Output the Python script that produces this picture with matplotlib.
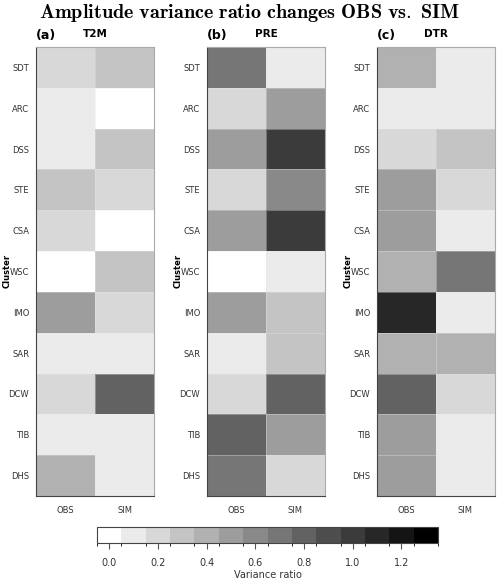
import numpy as np
import matplotlib
matplotlib.use("Agg")
import matplotlib.pyplot as plt
from matplotlib.colors import ListedColormap, BoundaryNorm

# clusters top to bottom
clusters = ["SDT", "ARC", "DSS", "STE", "CSA", "WSC", "IMO", "SAR", "DCW", "TIB", "DHS"]
sources = ["OBS", "SIM"]
variables = ["T2M", "PRE", "DTR"]
panel_tags = ["(a)", "(b)", "(c)"]

# variance ratio per cluster, [OBS, SIM]
t2m_obs = [0.2, 0.1, 0.1, 0.3, 0.2, 0.0, 0.5, 0.1, 0.2, 0.1, 0.4]
t2m_sim = [0.3, 0.0, 0.3, 0.2, 0.0, 0.3, 0.2, 0.1, 0.8, 0.1, 0.1]
pre_obs = [0.7, 0.2, 0.5, 0.2, 0.5, 0.0, 0.5, 0.1, 0.2, 0.8, 0.7]
pre_sim = [0.1, 0.5, 1.0, 0.6, 1.0, 0.1, 0.3, 0.3, 0.8, 0.5, 0.2]
dtr_obs = [0.4, 0.1, 0.2, 0.5, 0.5, 0.4, 1.1, 0.4, 0.8, 0.5, 0.5]
dtr_sim = [0.1, 0.1, 0.3, 0.2, 0.1, 0.7, 0.1, 0.4, 0.2, 0.1, 0.1]

panels = [(t2m_obs, t2m_sim), (pre_obs, pre_sim), (dtr_obs, dtr_sim)]

# 14 grey levels, bins centred on 0.0 ... 1.3
levels = np.linspace(1, 0, 14)
cmap = ListedColormap([str(g) for g in levels])
bounds = np.arange(-0.05, 1.40, 0.1)
norm = BoundaryNorm(bounds, cmap.N)

fig = plt.figure(figsize=(5, 5.85), dpi=100)
W, H = 500, 585

fig.text(0.5, 1 - 13 / H,
         r"$\mathbf{Amplitude\ variance\ ratio\ changes\ OBS\ vs.\ SIM}$",
         ha="center", va="center", fontsize=14.5,
         math_fontfamily="cm")

lefts = [36, 207, 377]
ax_w, top, bottom = 118, 47, 496

for i, (obs, sim) in enumerate(panels):
    ax = fig.add_axes([lefts[i] / W, 1 - bottom / H, ax_w / W, (bottom - top) / H])
    data = np.column_stack([obs, sim])
    ax.pcolormesh(np.arange(3), np.arange(len(clusters) + 1), data,
                  cmap=cmap, norm=norm, edgecolors=(0.9, 0.9, 0.9, 0.35), linewidth=0.4)
    ax.set_xlim(0, 2)
    ax.set_ylim(len(clusters), 0)
    ax.set_yticks(np.arange(len(clusters)) + 0.5)
    ax.set_yticklabels(clusters, fontsize=6, color="#333333")
    ax.set_xticks([0.5, 1.5])
    ax.set_xticklabels(sources, fontsize=6, color="#333333")
    ax.tick_params(length=0, pad=5)
    ax.tick_params(axis="x", pad=7)
    for side in ["top", "right"]:
        ax.spines[side].set_color("#aaaaaa")
        ax.spines[side].set_linewidth(0.8)
    for side in ["left", "bottom"]:
        ax.spines[side].set_color("#444444")
        ax.spines[side].set_linewidth(0.8)
    fig.text((lefts[i] - 29) / W, 1 - 271 / H, "Cluster", rotation=90,
             fontsize=6, fontweight="bold", ha="center", va="center")
    ax.text(0.0, 1.012, panel_tags[i], transform=ax.transAxes,
            fontsize=9, fontweight="bold", ha="left", va="bottom")
    ax.text(0.5, 1.018, variables[i], transform=ax.transAxes,
            fontsize=7.5, fontweight="bold", ha="center", va="bottom")

# colour bar
cax = fig.add_axes([97 / W, 1 - 543 / H, 341 / W, 16 / H])
sm = plt.cm.ScalarMappable(cmap=cmap, norm=norm)
cb = fig.colorbar(sm, cax=cax, orientation="horizontal",
                  ticks=np.round(np.arange(0, 1.3, 0.2), 1))
cb.ax.set_xticklabels(["0.0", "0.2", "0.4", "0.6", "0.8", "1.0", "1.2"])
cb.ax.tick_params(labelsize=7, length=4, color="#555555", labelcolor="#333333", pad=7)
cb.outline.set_edgecolor("#444444")
cb.outline.set_linewidth(0.8)
cb.set_label("Variance ratio", fontsize=7, color="#333333", labelpad=1)

fig.savefig("out.png", dpi=100)
